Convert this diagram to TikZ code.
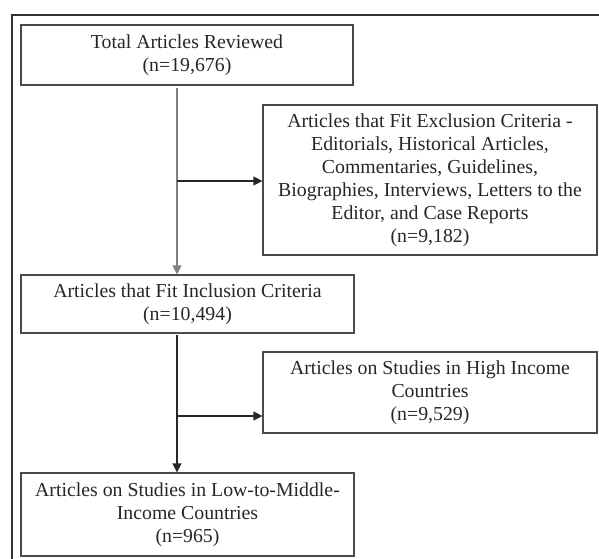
\documentclass[tikz,border=0pt]{standalone}
\usepackage{fontspec}
\setmainfont{Liberation Serif}
\usetikzlibrary{arrows.meta}
\definecolor{boxline}{HTML}{4A4A4A}
\definecolor{frameline}{HTML}{333333}
\definecolor{lightarrow}{HTML}{808080}
\tikzset{
  flowbox/.style={draw=boxline, line width=1.2pt, rectangle, align=center,
    inner sep=0pt, font=\fontsize{19.8}{23}\selectfont, text=black!85},
  flowarrow/.style={draw=black!85, line width=1.2pt, -{Triangle[length=9pt,width=9pt]}},
}
\begin{document}
\begin{tikzpicture}[x=1pt,y=-1pt]
\useasboundingbox (0,0) rectangle (599,558);
\clip (0,0) rectangle (599,558);
\draw[frameline, line width=1.3pt] (12,15) rectangle (620,580);
\node[flowbox, minimum width=332pt, minimum height=60pt] (total) at (187,55)
  {Total Articles Reviewed\\(n=19,676)};
\node[flowbox, minimum width=334pt, minimum height=150pt] (excl) at (430,180)
  {Articles that Fit Exclusion Criteria -\\Editorials, Historical Articles,\\Commentaries, Guidelines,\\Biographies, Interviews, Letters to the\\Editor, and Case Reports\\(n=9,182)};
\node[flowbox, minimum width=333pt, minimum height=58pt] (incl) at (187.5,304)
  {Articles that Fit Inclusion Criteria\\(n=10,494)};
\node[flowbox, minimum width=334pt, minimum height=81pt] (high) at (430,392.5)
  {Articles on Studies in High Income\\Countries\\(n=9,529)};
\node[flowbox, minimum width=333pt, minimum height=83pt] (lmic) at (187.5,514.5)
  {Articles on Studies in Low-to-Middle-\\Income Countries\\(n=965)};
\coordinate (ax) at (177,0);
\coordinate (b1) at (177,181);
\coordinate (b2) at (177,416);
\draw[flowarrow, draw=lightarrow] ([yshift=-2pt]total.south -| ax) -- (incl.north -| ax);
\draw[flowarrow] (b1) -- (b1 -| excl.west);
\draw[flowarrow] ([yshift=-1pt]incl.south -| ax) -- (lmic.north -| ax);
\draw[flowarrow] (b2) -- (b2 -| high.west);
\end{tikzpicture}
\end{document}
